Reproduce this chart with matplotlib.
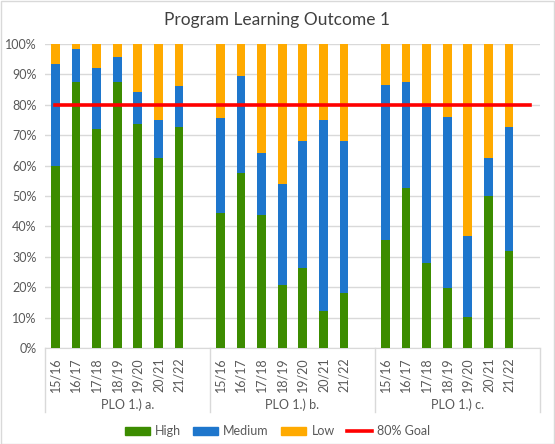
import numpy as np
import matplotlib.pyplot as plt
from matplotlib.patches import Patch, Rectangle
from matplotlib.lines import Line2D
import matplotlib.transforms as mtransforms

plt.rcParams['font.family'] = ['Lato', 'DejaVu Sans']

years = ['15/16', '16/17', '17/18', '18/19', '19/20', '20/21', '21/22']
groups = ['PLO 1.) a.', 'PLO 1.) b.', 'PLO 1.) c.']

# percent of students per level, one list per PLO
high_a = [60.0, 87.6, 72.0, 87.6, 73.7, 62.6, 72.6]
medium_a = [33.3, 10.6, 20.0, 8.1, 10.5, 12.4, 13.6]
low_a = [6.7, 1.8, 8.0, 4.3, 15.8, 25.0, 13.8]

high_b = [44.3, 57.7, 43.9, 20.7, 26.2, 12.3, 18.1]
medium_b = [31.2, 31.8, 20.1, 33.3, 42.0, 62.6, 49.9]
low_b = [24.5, 10.5, 36.0, 46.0, 31.8, 25.1, 32.0]

high_c = [35.5, 52.7, 27.8, 19.9, 10.3, 50.0, 31.9]
medium_c = [51.0, 34.9, 51.6, 56.0, 26.4, 12.5, 40.7]
low_c = [13.5, 12.4, 20.6, 24.1, 63.3, 37.5, 27.4]

goal = 80

green = '#3C8C00'
blue = '#1E76CC'
orange = '#FFAA00'
txt = '#595959'

W, H = 555, 444
fig = plt.figure(figsize=(W / 100, H / 100), dpi=100)
fig.patches.append(Rectangle((0.5 / W, 0.5 / H), 1 - 1.5 / W, 1 - 1.5 / H,
                             transform=fig.transFigure, fill=False,
                             edgecolor='#D9D9D9', linewidth=1))
ax = fig.add_axes([45 / W, (H - 348) / H, 495 / W, 304 / H])

slots = len(years) + 1   # one empty category after each group
highs = [high_a, high_b, high_c]
mediums = [medium_a, medium_b, medium_c]
lows = [low_a, low_b, low_c]

for g in range(len(groups)):
    x = np.arange(len(years)) + g * slots
    h = np.array(highs[g])
    m = np.array(mediums[g])
    l = np.array(lows[g])
    ax.bar(x, h, width=0.42, color=green, zorder=3)
    ax.bar(x, m, width=0.42, bottom=h, color=blue, zorder=3)
    ax.bar(x, l, width=0.42, bottom=h + m, color=orange, zorder=3)

n = slots * len(groups)
ax.plot([0, n - 1], [goal, goal], color='#FF0000', linewidth=2.6, zorder=4)

ax.set_xlim(-0.5, n - 0.5)
ax.set_ylim(0, 100)
ax.set_yticks(np.arange(0, 101, 10))
ax.set_yticklabels([f'{v}%' for v in range(0, 101, 10)], fontsize=9, color=txt)
ax.yaxis.grid(True, color='#D9D9D9', linewidth=1)
ax.set_axisbelow(True)
for s in ['left', 'right', 'top']:
    ax.spines[s].set_visible(False)
ax.spines['bottom'].set_color('#D9D9D9')
ax.tick_params(axis='y', length=0, pad=6)

ticks = []
labels = []
for g in range(len(groups)):
    for i, y in enumerate(years):
        ticks.append(g * slots + i)
        labels.append(y)
ax.set_xticks(ticks)
ax.set_xticklabels(labels, rotation=90, fontsize=9, color=txt)
ax.tick_params(axis='x', length=0, pad=7)

trans = mtransforms.blended_transform_factory(ax.transData, ax.transAxes)
for g in range(len(groups) + 1):
    xb = g * slots - 0.5
    ax.add_line(Line2D([xb, xb], [0, -64 / 304], transform=trans,
                       color='#D9D9D9', linewidth=1, clip_on=False))
for g, name in enumerate(groups):
    xc = g * slots + (slots - 1) / 2
    ax.text(xc, -57 / 304, name, transform=trans, ha='center', va='center',
            fontsize=9, color=txt)

fig.text(0.5, 1 - 19.5 / H, 'Program Learning Outcome 1', ha='center',
         va='center', fontsize=12.5, color='#404040')

handles = [Patch(color=green, label='High'),
           Patch(color=blue, label='Medium'),
           Patch(color=orange, label='Low'),
           Line2D([], [], color='#FF0000', linewidth=2.6, label='80% Goal')]
leg = fig.legend(handles=handles, loc='center', bbox_to_anchor=(0.5, 13 / H),
                 ncol=4, frameon=False, fontsize=9, handlelength=2.0,
                 handleheight=0.6, handletextpad=0.4, columnspacing=1.0)
for t in leg.get_texts():
    t.set_color(txt)

fig.savefig('out.png', dpi=100)
